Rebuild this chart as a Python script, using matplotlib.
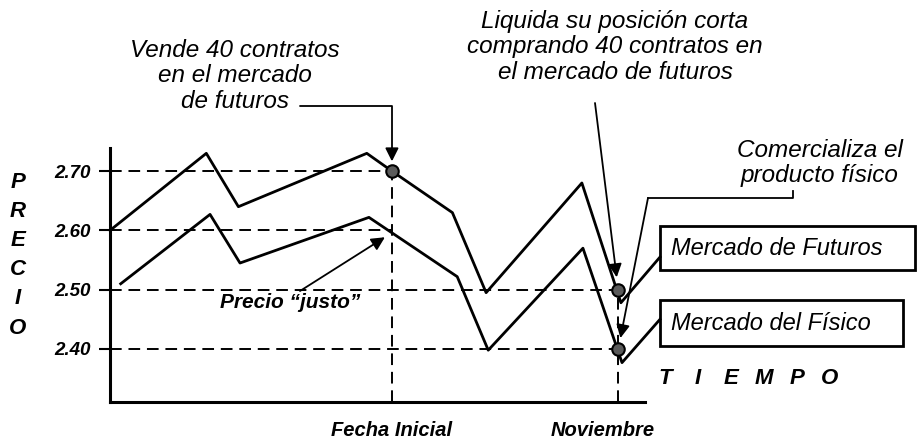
import matplotlib
matplotlib.use('Agg')
import matplotlib.pyplot as plt
from matplotlib.patches import Rectangle
from matplotlib.lines import Line2D
from matplotlib.transforms import ScaledTranslation

plt.rcParams['font.family'] = ['Liberation Sans', 'DejaVu Sans']

# tiempo (unidades arbitrarias) y precio de cada serie
t_futuros = [0, 18, 24, 48, 52.7, 64, 70.3, 88.2, 95.5, 102.8]
p_futuros = [2.60, 2.73, 2.64, 2.73, 2.70, 2.63, 2.495, 2.68, 2.478, 2.555]
t_fisico = [2, 18.7, 24.3, 48.4, 64.9, 70.7, 88.4, 95.7, 102.8]
p_fisico = [2.51, 2.627, 2.545, 2.622, 2.522, 2.398, 2.57, 2.377, 2.45]

fecha_inicial = 52.7
noviembre = 95.0
precios = [2.40, 2.50, 2.60, 2.70]
fechas = ['Fecha Inicial', 'Noviembre']

# puntos marcados (fecha, precio)
marca_t = [fecha_inicial, noviembre, noviembre]
marca_p = [2.70, 2.50, 2.40]

W, H = 917, 446


def fp(x, y):
    # pixel (origen arriba-izquierda) -> fraccion de figura
    return (x / W, 1 - y / H)


bi = dict(fontweight='bold', fontstyle='italic')

fig = plt.figure(figsize=(W / 100, H / 100), dpi=100)
ax = fig.add_axes([110 / W, 44 / H, 535 / W, 254 / H])
ax.set_xlim(0, 100)
ax.set_ylim(2.3106, 2.739)
ax.spines['top'].set_visible(False)
ax.spines['right'].set_visible(False)
ax.spines['left'].set_linewidth(2.2)
ax.spines['bottom'].set_linewidth(2.2)

ax.set_yticks(precios)
ax.set_yticklabels(['%.2f' % p for p in precios], fontsize=13.5, **bi)
ax.tick_params(axis='y', length=8, width=1.5, pad=6)
ax.set_xticks([fecha_inicial, noviembre])
ax.set_xticklabels(fechas, fontsize=14.5, **bi)
ax.tick_params(axis='x', length=0, pad=14)
lab = ax.get_xticklabels()[1]
lab.set_transform(lab.get_transform() + ScaledTranslation(-0.16, 0, fig.dpi_scale_trans))

dash = dict(color='black', lw=1.4, linestyle=(0, (6, 3.5)), zorder=1)
ymin = ax.get_ylim()[0]
ax.hlines([2.70, 2.60], 0, fecha_inicial, **dash)
ax.hlines([2.50, 2.40], 0, noviembre, **dash)
ax.vlines(fecha_inicial, ymin, 2.70, **dash)
ax.vlines(noviembre, ymin, 2.50, **dash)

ax.plot(t_futuros, p_futuros, color='black', lw=2, clip_on=False, zorder=3)
ax.plot(t_fisico, p_fisico, color='black', lw=2, clip_on=False, zorder=3)
ax.plot(marca_t, marca_p, 'o', ms=9, mfc='#5a5a5a', mec='black', mew=1.5,
        zorder=5, clip_on=False)

# letras de los ejes
for i, ch in enumerate('PRECIO'):
    fig.text(*fp(18, 182 + 29.2 * i), ch, ha='center', va='center', fontsize=16, **bi)
for i, ch in enumerate('TIEMPO'):
    fig.text(*fp(665 + 33 * i, 378), ch, ha='center', va='center', fontsize=16, **bi)

arrow = dict(arrowstyle='-|>', color='black', lw=1.3, mutation_scale=20, shrinkA=0)
ital = dict(fontsize=17.5, fontstyle='italic', ha='center', va='center',
            multialignment='center', linespacing=1.12)

fig.text(*fp(235, 76), 'Vende 40 contratos\nen el mercado\nde futuros', **ital)
ax.annotate('', xy=(fecha_inicial, 2.70), xytext=fp(300, 106), textcoords='figure fraction',
            arrowprops=dict(arrow, shrinkB=7, connectionstyle='angle,angleA=0,angleB=90,rad=0'))

fig.text(*fp(615, 47), 'Liquida su posición corta\ncomprando 40 contratos en\nel mercado de futuros', **ital)
ax.annotate('', xy=(noviembre, 2.50), xytext=fp(595, 103), textcoords='figure fraction',
            arrowprops=dict(arrow, shrinkB=9))

fig.text(*fp(820, 163), 'Comercializa el\nproducto físico', **ital)
xs, ys = zip(fp(793, 191), fp(793, 198), fp(648, 198))
fig.add_artist(Line2D(xs, ys, transform=fig.transFigure, color='black', lw=1.3))
ax.annotate('', xy=(noviembre, 2.40), xytext=fp(648, 198), textcoords='figure fraction',
            arrowprops=dict(arrow, shrinkB=8))

fig.text(*fp(290, 303), 'Precio \u201cjusto\u201d', ha='center', va='center', fontsize=15, **bi)
ax.annotate('', xy=(fecha_inicial, 2.596), xytext=fp(300, 291), textcoords='figure fraction',
            arrowprops=dict(arrow, shrinkB=6))

# cajas de las series
fig.add_artist(Rectangle(fp(660, 270), 255 / W, 44 / H, transform=fig.transFigure,
                         fill=False, lw=2, ec='black'))
fig.add_artist(Rectangle(fp(660, 346), 243 / W, 46 / H, transform=fig.transFigure,
                         fill=False, lw=2, ec='black'))
fig.text(*fp(671, 248), 'Mercado de Futuros', fontsize=17, fontstyle='italic', va='center')
fig.text(*fp(671, 323), 'Mercado del Físico', fontsize=17, fontstyle='italic', va='center')

fig.savefig('out.png', dpi=100)
